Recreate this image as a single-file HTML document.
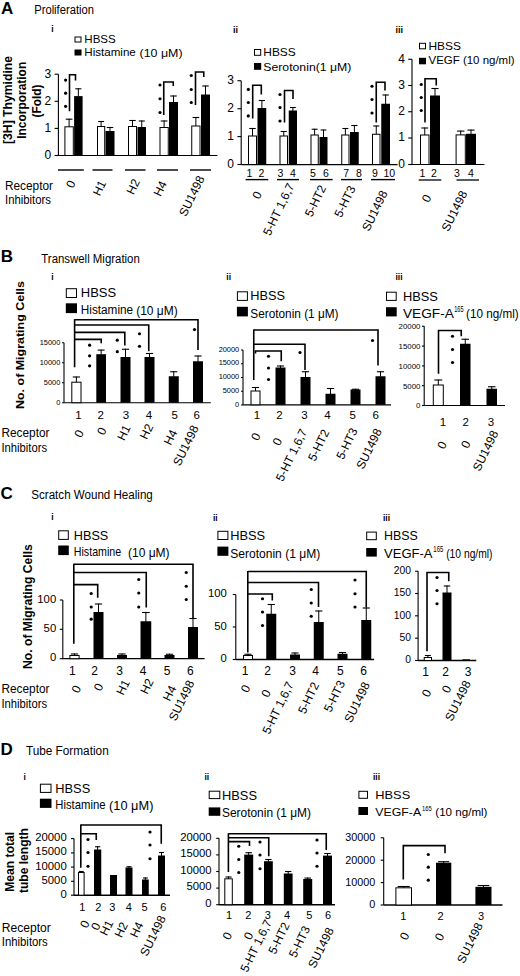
<!DOCTYPE html>
<html><head><meta charset="utf-8"><style>
html,body{margin:0;padding:0;background:#fff;width:520px;height:976px;overflow:hidden}
svg{display:block;font-family:"Liberation Sans",sans-serif}
text{fill:#000;stroke:none}
</style></head><body>
<svg width="520" height="976" viewBox="0 0 520 976">
<rect x="0" y="0" width="520" height="976" fill="#fff"/>
<g stroke="#000">
<text x="1.00" y="13.80" font-size="17" font-weight="bold">A</text>
<text x="34.20" y="13.60" font-size="12" textLength="59.80" lengthAdjust="spacingAndGlyphs">Proliferation</text>
<text x="11.80" y="100.00" font-size="12" text-anchor="middle" font-weight="bold" textLength="88.00" lengthAdjust="spacingAndGlyphs" transform="rotate(-90 11.80 100.00)">[3H] Thymidine</text>
<text x="26.20" y="100.30" font-size="12" text-anchor="middle" font-weight="bold" textLength="77.00" lengthAdjust="spacingAndGlyphs" transform="rotate(-90 26.20 100.30)">Incorporation</text>
<text x="40.50" y="101.00" font-size="12" text-anchor="middle" font-weight="bold" textLength="33.00" lengthAdjust="spacingAndGlyphs" transform="rotate(-90 40.50 101.00)">(Fold)</text>
<text x="51.20" y="31.80" font-size="8.5" font-weight="bold">i</text>
<rect x="75.00" y="37.00" width="6.00" height="5.00" fill="#fff" stroke-width="1"/>
<rect x="74.50" y="49.50" width="7.00" height="6.00" fill="#000" stroke="none"/>
<text x="84.30" y="42.70" font-size="11" textLength="31.50" lengthAdjust="spacingAndGlyphs">HBSS</text>
<text x="84.30" y="55.70" font-size="11" textLength="51.50" lengthAdjust="spacingAndGlyphs">Histamine</text>
<text x="139.60" y="56.60" font-size="11.5" textLength="43.00" lengthAdjust="spacingAndGlyphs">(10 μM)</text>
<line x1="58.40" y1="74.20" x2="58.40" y2="155.50" stroke-width="1.1"/>
<line x1="54.60" y1="74.20" x2="58.40" y2="74.20" stroke-width="1.1"/>
<text x="51.20" y="77.52" font-size="12" text-anchor="end">3</text>
<line x1="54.60" y1="101.30" x2="58.40" y2="101.30" stroke-width="1.1"/>
<text x="51.20" y="104.62" font-size="12" text-anchor="end">2</text>
<line x1="54.60" y1="128.40" x2="58.40" y2="128.40" stroke-width="1.1"/>
<text x="51.20" y="131.72" font-size="12" text-anchor="end">1</text>
<line x1="54.60" y1="155.50" x2="58.40" y2="155.50" stroke-width="1.1"/>
<text x="51.20" y="158.82" font-size="12" text-anchor="end">0</text>
<line x1="58.00" y1="155.50" x2="217.50" y2="155.50" stroke-width="1.1"/>
<rect x="64.90" y="126.80" width="8.40" height="28.70" fill="#fff" stroke-width="1.0"/>
<line x1="69.10" y1="118.70" x2="69.10" y2="126.80" stroke-width="1.0"/>
<line x1="65.72" y1="119.20" x2="72.48" y2="119.20" stroke-width="1.1"/>
<rect x="74.10" y="96.10" width="8.50" height="59.40" fill="#000" stroke="none"/>
<line x1="78.35" y1="88.30" x2="78.35" y2="96.60" stroke-width="1.0"/>
<line x1="75.29" y1="88.80" x2="81.41" y2="88.80" stroke-width="1.1"/>
<rect x="97.50" y="126.50" width="7.20" height="29.00" fill="#fff" stroke-width="1.0"/>
<line x1="101.10" y1="121.00" x2="101.10" y2="126.50" stroke-width="1.0"/>
<line x1="98.15" y1="121.50" x2="104.05" y2="121.50" stroke-width="1.1"/>
<rect x="105.50" y="131.00" width="9.00" height="24.50" fill="#000" stroke="none"/>
<line x1="110.00" y1="127.00" x2="110.00" y2="131.50" stroke-width="1.0"/>
<line x1="106.76" y1="127.50" x2="113.24" y2="127.50" stroke-width="1.1"/>
<rect x="128.50" y="126.50" width="8.00" height="29.00" fill="#fff" stroke-width="1.0"/>
<line x1="132.50" y1="120.00" x2="132.50" y2="126.50" stroke-width="1.0"/>
<line x1="129.26" y1="120.50" x2="135.74" y2="120.50" stroke-width="1.1"/>
<rect x="137.50" y="127.00" width="8.50" height="28.50" fill="#000" stroke="none"/>
<line x1="141.75" y1="120.50" x2="141.75" y2="127.50" stroke-width="1.0"/>
<line x1="138.69" y1="121.00" x2="144.81" y2="121.00" stroke-width="1.1"/>
<rect x="160.00" y="127.50" width="8.25" height="28.00" fill="#fff" stroke-width="1.0"/>
<line x1="164.12" y1="120.50" x2="164.12" y2="127.50" stroke-width="1.0"/>
<line x1="160.79" y1="121.00" x2="167.46" y2="121.00" stroke-width="1.1"/>
<rect x="169.00" y="102.00" width="9.00" height="53.50" fill="#000" stroke="none"/>
<line x1="173.50" y1="95.50" x2="173.50" y2="102.50" stroke-width="1.0"/>
<line x1="170.26" y1="96.00" x2="176.74" y2="96.00" stroke-width="1.1"/>
<rect x="191.75" y="126.00" width="8.25" height="29.50" fill="#fff" stroke-width="1.0"/>
<line x1="195.88" y1="117.00" x2="195.88" y2="126.00" stroke-width="1.0"/>
<line x1="192.54" y1="117.50" x2="199.21" y2="117.50" stroke-width="1.1"/>
<rect x="201.00" y="94.50" width="9.00" height="61.00" fill="#000" stroke="none"/>
<line x1="205.50" y1="85.50" x2="205.50" y2="95.00" stroke-width="1.0"/>
<line x1="202.26" y1="86.00" x2="208.74" y2="86.00" stroke-width="1.1"/>
<polyline points="69.50,111.20 69.50,74.70 75.50,74.70 75.50,80.60" fill="none" stroke-width="1.6"/>
<polyline points="163.75,115.00 163.75,82.00 173.25,82.00 173.25,86.00" fill="none" stroke-width="1.6"/>
<polyline points="195.50,105.00 195.50,72.00 203.75,72.00 203.75,77.00" fill="none" stroke-width="1.6"/>
<circle cx="65.60" cy="80.10" r="1.6" fill="#000" stroke="none"/>
<circle cx="65.60" cy="93.20" r="1.6" fill="#000" stroke="none"/>
<circle cx="65.60" cy="106.30" r="1.6" fill="#000" stroke="none"/>
<circle cx="160.00" cy="85.00" r="1.6" fill="#000" stroke="none"/>
<circle cx="160.00" cy="98.75" r="1.6" fill="#000" stroke="none"/>
<circle cx="160.00" cy="112.50" r="1.6" fill="#000" stroke="none"/>
<circle cx="191.25" cy="75.50" r="1.6" fill="#000" stroke="none"/>
<circle cx="191.25" cy="89.50" r="1.6" fill="#000" stroke="none"/>
<circle cx="191.25" cy="102.50" r="1.6" fill="#000" stroke="none"/>
<line x1="58.00" y1="170.00" x2="83.75" y2="170.00" stroke-width="1.4"/>
<line x1="92.50" y1="170.00" x2="112.50" y2="170.00" stroke-width="1.4"/>
<line x1="125.00" y1="170.00" x2="145.50" y2="170.00" stroke-width="1.4"/>
<line x1="157.00" y1="170.00" x2="178.00" y2="170.00" stroke-width="1.4"/>
<line x1="190.00" y1="170.00" x2="211.00" y2="170.00" stroke-width="1.4"/>
<text x="76.00" y="182.90" font-size="12" text-anchor="end" transform="rotate(-64 76.00 182.90)">0</text>
<text x="106.40" y="182.90" font-size="12" text-anchor="end" transform="rotate(-64 106.40 182.90)">H1</text>
<text x="140.30" y="181.60" font-size="12" text-anchor="end" transform="rotate(-64 140.30 181.60)">H2</text>
<text x="167.20" y="183.40" font-size="12" text-anchor="end" transform="rotate(-64 167.20 183.40)">H4</text>
<text x="204.95" y="178.20" font-size="12" text-anchor="end" transform="rotate(-64 204.95 178.20)">SU1498</text>
<text x="5.00" y="189.50" font-size="12" textLength="48.00" lengthAdjust="spacingAndGlyphs">Receptor</text>
<text x="5.00" y="204.00" font-size="12" textLength="46.00" lengthAdjust="spacingAndGlyphs">Inhibitors</text>
<text x="233.00" y="32.50" font-size="9" font-weight="bold">ii</text>
<rect x="254.50" y="49.50" width="6.20" height="5.80" fill="#fff" stroke-width="1"/>
<rect x="254.00" y="63.00" width="7.20" height="6.80" fill="#000" stroke="none"/>
<text x="263.30" y="56.20" font-size="11.5" textLength="32.50" lengthAdjust="spacingAndGlyphs">HBSS</text>
<text x="263.30" y="70.80" font-size="11.5" textLength="88.00" lengthAdjust="spacingAndGlyphs">Serotonin(1 μM)</text>
<line x1="241.20" y1="80.75" x2="241.20" y2="164.50" stroke-width="1.1"/>
<line x1="237.40" y1="80.75" x2="241.20" y2="80.75" stroke-width="1.1"/>
<text x="234.00" y="84.07" font-size="12" text-anchor="end">3</text>
<line x1="237.40" y1="108.75" x2="241.20" y2="108.75" stroke-width="1.1"/>
<text x="234.00" y="112.07" font-size="12" text-anchor="end">2</text>
<line x1="237.40" y1="136.60" x2="241.20" y2="136.60" stroke-width="1.1"/>
<text x="234.00" y="139.92" font-size="12" text-anchor="end">1</text>
<line x1="237.40" y1="164.50" x2="241.20" y2="164.50" stroke-width="1.1"/>
<text x="234.00" y="167.82" font-size="12" text-anchor="end">0</text>
<line x1="241.20" y1="164.60" x2="397.50" y2="164.60" stroke-width="1.1"/>
<rect x="248.50" y="136.00" width="8.00" height="28.50" fill="#fff" stroke-width="1.0"/>
<line x1="252.50" y1="128.00" x2="252.50" y2="136.00" stroke-width="1.0"/>
<line x1="249.26" y1="128.50" x2="255.74" y2="128.50" stroke-width="1.1"/>
<rect x="257.50" y="108.00" width="8.75" height="56.50" fill="#000" stroke="none"/>
<line x1="261.88" y1="100.00" x2="261.88" y2="108.50" stroke-width="1.0"/>
<line x1="258.73" y1="100.50" x2="265.02" y2="100.50" stroke-width="1.1"/>
<rect x="280.00" y="136.00" width="7.50" height="28.50" fill="#fff" stroke-width="1.0"/>
<line x1="283.75" y1="131.00" x2="283.75" y2="136.00" stroke-width="1.0"/>
<line x1="280.69" y1="131.50" x2="286.81" y2="131.50" stroke-width="1.1"/>
<rect x="288.75" y="110.50" width="8.25" height="54.00" fill="#000" stroke="none"/>
<line x1="292.88" y1="107.00" x2="292.88" y2="111.00" stroke-width="1.0"/>
<line x1="289.90" y1="107.50" x2="295.85" y2="107.50" stroke-width="1.1"/>
<rect x="311.00" y="135.00" width="7.25" height="29.50" fill="#fff" stroke-width="1.0"/>
<line x1="314.62" y1="128.75" x2="314.62" y2="135.00" stroke-width="1.0"/>
<line x1="311.65" y1="129.25" x2="317.60" y2="129.25" stroke-width="1.1"/>
<rect x="319.50" y="137.00" width="8.00" height="27.50" fill="#000" stroke="none"/>
<line x1="323.50" y1="129.50" x2="323.50" y2="137.50" stroke-width="1.0"/>
<line x1="320.62" y1="130.00" x2="326.38" y2="130.00" stroke-width="1.1"/>
<rect x="341.75" y="135.00" width="7.25" height="29.50" fill="#fff" stroke-width="1.0"/>
<line x1="345.38" y1="128.00" x2="345.38" y2="135.00" stroke-width="1.0"/>
<line x1="342.40" y1="128.50" x2="348.35" y2="128.50" stroke-width="1.1"/>
<rect x="350.00" y="132.00" width="8.75" height="32.50" fill="#000" stroke="none"/>
<line x1="354.38" y1="125.00" x2="354.38" y2="132.50" stroke-width="1.0"/>
<line x1="351.23" y1="125.50" x2="357.52" y2="125.50" stroke-width="1.1"/>
<rect x="372.50" y="134.25" width="7.50" height="30.25" fill="#fff" stroke-width="1.0"/>
<line x1="376.25" y1="125.50" x2="376.25" y2="134.25" stroke-width="1.0"/>
<line x1="373.19" y1="126.00" x2="379.31" y2="126.00" stroke-width="1.1"/>
<rect x="381.25" y="103.75" width="8.75" height="60.75" fill="#000" stroke="none"/>
<line x1="385.62" y1="94.50" x2="385.62" y2="104.25" stroke-width="1.0"/>
<line x1="382.48" y1="95.00" x2="388.77" y2="95.00" stroke-width="1.1"/>
<polyline points="252.70,118.50 252.70,85.20 261.30,85.20 261.30,94.50" fill="none" stroke-width="1.6"/>
<polyline points="284.50,122.50 284.50,90.50 293.00,90.50 293.00,99.00" fill="none" stroke-width="1.6"/>
<polyline points="376.25,122.50 376.25,82.30 385.00,82.30 385.00,90.50" fill="none" stroke-width="1.6"/>
<circle cx="248.30" cy="89.40" r="1.6" fill="#000" stroke="none"/>
<circle cx="248.30" cy="102.50" r="1.6" fill="#000" stroke="none"/>
<circle cx="248.30" cy="115.90" r="1.6" fill="#000" stroke="none"/>
<circle cx="280.00" cy="94.50" r="1.6" fill="#000" stroke="none"/>
<circle cx="280.00" cy="107.50" r="1.6" fill="#000" stroke="none"/>
<circle cx="280.00" cy="121.00" r="1.6" fill="#000" stroke="none"/>
<circle cx="372.00" cy="86.25" r="1.6" fill="#000" stroke="none"/>
<circle cx="372.00" cy="99.50" r="1.6" fill="#000" stroke="none"/>
<circle cx="372.00" cy="113.00" r="1.6" fill="#000" stroke="none"/>
<text x="249.50" y="177.30" font-size="10.5" text-anchor="middle">1</text>
<text x="261.50" y="177.30" font-size="10.5" text-anchor="middle">2</text>
<text x="280.50" y="177.30" font-size="10.5" text-anchor="middle">3</text>
<text x="293.00" y="177.30" font-size="10.5" text-anchor="middle">4</text>
<text x="313.00" y="177.30" font-size="10.5" text-anchor="middle">5</text>
<text x="325.80" y="177.30" font-size="10.5" text-anchor="middle">6</text>
<text x="346.20" y="177.30" font-size="10.5" text-anchor="middle">7</text>
<text x="359.00" y="177.30" font-size="10.5" text-anchor="middle">8</text>
<text x="375.00" y="177.30" font-size="10.5" text-anchor="middle">9</text>
<text x="389.30" y="177.30" font-size="10.5" text-anchor="middle">10</text>
<line x1="245.60" y1="179.60" x2="268.30" y2="179.60" stroke-width="1.4"/>
<line x1="277.00" y1="179.60" x2="299.00" y2="179.60" stroke-width="1.4"/>
<line x1="310.00" y1="179.60" x2="332.60" y2="179.60" stroke-width="1.4"/>
<line x1="341.00" y1="179.60" x2="362.00" y2="179.60" stroke-width="1.4"/>
<line x1="371.00" y1="179.60" x2="395.00" y2="179.60" stroke-width="1.4"/>
<text x="262.20" y="193.90" font-size="12" text-anchor="end" transform="rotate(-64 262.20 193.90)">0</text>
<text x="294.70" y="185.70" font-size="12" text-anchor="end" transform="rotate(-64 294.70 185.70)">5-HT 1,6,7</text>
<text x="326.40" y="187.70" font-size="12" text-anchor="end" transform="rotate(-64 326.40 187.70)">5-HT2</text>
<text x="356.00" y="188.20" font-size="12" text-anchor="end" transform="rotate(-64 356.00 188.20)">5-HT3</text>
<text x="387.90" y="193.10" font-size="12" text-anchor="end" transform="rotate(-64 387.90 193.10)">SU1498</text>
<text x="395.50" y="33.00" font-size="9" font-weight="bold">iii</text>
<rect x="419.50" y="43.30" width="6.00" height="5.50" fill="#fff" stroke-width="1"/>
<rect x="419.00" y="57.80" width="7.00" height="6.50" fill="#000" stroke="none"/>
<text x="428.50" y="49.70" font-size="11.5" textLength="32.50" lengthAdjust="spacingAndGlyphs">HBSS</text>
<text x="428.50" y="64.30" font-size="11.5" textLength="86.00" lengthAdjust="spacingAndGlyphs">VEGF (10 ng/ml)</text>
<line x1="412.00" y1="59.25" x2="412.00" y2="164.50" stroke-width="1.1"/>
<line x1="408.20" y1="59.25" x2="412.00" y2="59.25" stroke-width="1.1"/>
<text x="405.00" y="62.57" font-size="12" text-anchor="end">4</text>
<line x1="408.20" y1="85.50" x2="412.00" y2="85.50" stroke-width="1.1"/>
<text x="405.00" y="88.82" font-size="12" text-anchor="end">3</text>
<line x1="408.20" y1="111.75" x2="412.00" y2="111.75" stroke-width="1.1"/>
<text x="405.00" y="115.07" font-size="12" text-anchor="end">2</text>
<line x1="408.20" y1="138.00" x2="412.00" y2="138.00" stroke-width="1.1"/>
<text x="405.00" y="141.32" font-size="12" text-anchor="end">1</text>
<line x1="408.20" y1="164.50" x2="412.00" y2="164.50" stroke-width="1.1"/>
<text x="405.00" y="167.82" font-size="12" text-anchor="end">0</text>
<line x1="412.00" y1="164.50" x2="484.40" y2="164.50" stroke-width="1.1"/>
<rect x="420.50" y="135.00" width="8.50" height="29.50" fill="#fff" stroke-width="1.0"/>
<line x1="424.75" y1="127.50" x2="424.75" y2="135.00" stroke-width="1.0"/>
<line x1="421.33" y1="128.00" x2="428.17" y2="128.00" stroke-width="1.1"/>
<rect x="430.00" y="95.50" width="10.00" height="69.00" fill="#000" stroke="none"/>
<line x1="435.00" y1="88.00" x2="435.00" y2="96.00" stroke-width="1.0"/>
<line x1="431.40" y1="88.50" x2="438.60" y2="88.50" stroke-width="1.1"/>
<rect x="456.10" y="134.90" width="9.20" height="29.60" fill="#fff" stroke-width="1.0"/>
<line x1="460.70" y1="130.60" x2="460.70" y2="134.90" stroke-width="1.0"/>
<line x1="457.03" y1="131.10" x2="464.37" y2="131.10" stroke-width="1.1"/>
<rect x="466.00" y="133.80" width="10.00" height="30.70" fill="#000" stroke="none"/>
<line x1="471.00" y1="129.60" x2="471.00" y2="134.30" stroke-width="1.0"/>
<line x1="467.40" y1="130.10" x2="474.60" y2="130.10" stroke-width="1.1"/>
<polyline points="425.00,122.50 425.00,78.75 436.25,78.75 436.25,85.50" fill="none" stroke-width="1.6"/>
<circle cx="421.25" cy="84.50" r="1.6" fill="#000" stroke="none"/>
<circle cx="421.25" cy="97.50" r="1.6" fill="#000" stroke="none"/>
<circle cx="421.25" cy="110.50" r="1.6" fill="#000" stroke="none"/>
<text x="422.50" y="177.30" font-size="10.5" text-anchor="middle">1</text>
<text x="434.00" y="177.30" font-size="10.5" text-anchor="middle">2</text>
<text x="457.00" y="177.30" font-size="10.5" text-anchor="middle">3</text>
<text x="471.00" y="177.30" font-size="10.5" text-anchor="middle">4</text>
<line x1="418.75" y1="180.00" x2="441.25" y2="180.00" stroke-width="1.3"/>
<line x1="456.50" y1="180.00" x2="479.00" y2="180.00" stroke-width="1.3"/>
<text x="431.60" y="197.20" font-size="12" text-anchor="end" transform="rotate(-64 431.60 197.20)">0</text>
<text x="467.60" y="193.20" font-size="12" text-anchor="end" transform="rotate(-64 467.60 193.20)">SU1498</text>
<text x="0.70" y="262.00" font-size="17" font-weight="bold">B</text>
<text x="41.30" y="263.00" font-size="12" textLength="98.50" lengthAdjust="spacingAndGlyphs">Transwell Migration</text>
<text x="23.70" y="345.00" font-size="11.5" text-anchor="middle" font-weight="bold" textLength="128.00" lengthAdjust="spacingAndGlyphs" transform="rotate(-90 23.70 345.00)">No. of Migrating Cells</text>
<text x="51.20" y="279.80" font-size="8.5" font-weight="bold">i</text>
<rect x="66.30" y="288.70" width="10.20" height="8.80" fill="#fff" stroke-width="1"/>
<rect x="65.80" y="303.30" width="11.20" height="9.80" fill="#000" stroke="none"/>
<text x="80.80" y="297.40" font-size="12.3" textLength="35.30" lengthAdjust="spacingAndGlyphs">HBSS</text>
<text x="80.80" y="313.80" font-size="12.3" textLength="52.30" lengthAdjust="spacingAndGlyphs">Histamine</text>
<text x="136.20" y="315.00" font-size="13" textLength="41.50" lengthAdjust="spacingAndGlyphs">(10 μM)</text>
<line x1="64.00" y1="342.70" x2="64.00" y2="402.70" stroke-width="1.1"/>
<line x1="62.00" y1="342.70" x2="64.00" y2="342.70" stroke-width="1.1"/>
<text x="60.30" y="345.36" font-size="7.4" text-anchor="end">15000</text>
<line x1="62.00" y1="362.70" x2="64.00" y2="362.70" stroke-width="1.1"/>
<text x="60.30" y="365.36" font-size="7.4" text-anchor="end">10000</text>
<line x1="62.00" y1="382.70" x2="64.00" y2="382.70" stroke-width="1.1"/>
<text x="60.30" y="385.36" font-size="7.4" text-anchor="end">5000</text>
<line x1="62.00" y1="402.70" x2="64.00" y2="402.70" stroke-width="1.1"/>
<text x="60.30" y="405.36" font-size="7.4" text-anchor="end">0</text>
<line x1="64.00" y1="402.70" x2="210.80" y2="402.70" stroke-width="1.1"/>
<rect x="71.80" y="382.20" width="9.20" height="20.50" fill="#fff" stroke-width="1.0"/>
<line x1="76.40" y1="376.50" x2="76.40" y2="382.20" stroke-width="1.0"/>
<line x1="72.73" y1="377.00" x2="80.07" y2="377.00" stroke-width="1.1"/>
<rect x="96.30" y="354.20" width="9.70" height="48.50" fill="#000" stroke="none"/>
<line x1="101.15" y1="349.60" x2="101.15" y2="354.70" stroke-width="1.0"/>
<line x1="97.66" y1="350.10" x2="104.64" y2="350.10" stroke-width="1.1"/>
<rect x="120.50" y="357.00" width="10.00" height="45.70" fill="#000" stroke="none"/>
<line x1="125.50" y1="348.75" x2="125.50" y2="357.50" stroke-width="1.0"/>
<line x1="121.90" y1="349.25" x2="129.10" y2="349.25" stroke-width="1.1"/>
<rect x="144.50" y="357.00" width="10.00" height="45.70" fill="#000" stroke="none"/>
<line x1="149.50" y1="353.00" x2="149.50" y2="357.50" stroke-width="1.0"/>
<line x1="145.90" y1="353.50" x2="153.10" y2="353.50" stroke-width="1.1"/>
<rect x="168.75" y="376.25" width="10.00" height="26.45" fill="#000" stroke="none"/>
<line x1="173.75" y1="371.25" x2="173.75" y2="376.75" stroke-width="1.0"/>
<line x1="170.15" y1="371.75" x2="177.35" y2="371.75" stroke-width="1.1"/>
<rect x="193.00" y="361.25" width="10.00" height="41.45" fill="#000" stroke="none"/>
<line x1="198.00" y1="355.50" x2="198.00" y2="361.75" stroke-width="1.0"/>
<line x1="194.40" y1="356.00" x2="201.60" y2="356.00" stroke-width="1.1"/>
<line x1="74.60" y1="319.20" x2="74.60" y2="367.30" stroke-width="1.6"/>
<polyline points="74.60,319.80 198.00,319.80 198.00,350.00" fill="none" stroke-width="1.6"/>
<polyline points="74.60,325.00 148.75,325.00 148.75,351.25" fill="none" stroke-width="1.6"/>
<polyline points="74.60,332.40 124.80,332.40 124.80,345.50" fill="none" stroke-width="1.6"/>
<polyline points="74.60,339.40 101.20,339.40 101.20,343.30" fill="none" stroke-width="1.6"/>
<circle cx="89.60" cy="345.20" r="1.6" fill="#000" stroke="none"/>
<circle cx="89.60" cy="355.80" r="1.6" fill="#000" stroke="none"/>
<circle cx="89.60" cy="365.80" r="1.6" fill="#000" stroke="none"/>
<circle cx="117.30" cy="340.20" r="1.6" fill="#000" stroke="none"/>
<circle cx="117.30" cy="351.70" r="1.6" fill="#000" stroke="none"/>
<circle cx="139.50" cy="333.75" r="1.6" fill="#000" stroke="none"/>
<circle cx="139.50" cy="346.25" r="1.6" fill="#000" stroke="none"/>
<circle cx="194.50" cy="329.50" r="1.6" fill="#000" stroke="none"/>
<text x="78.40" y="419.00" font-size="11.5" text-anchor="middle">1</text>
<text x="100.60" y="419.00" font-size="11.5" text-anchor="middle">2</text>
<text x="126.00" y="419.00" font-size="11.5" text-anchor="middle">3</text>
<text x="149.00" y="419.00" font-size="11.5" text-anchor="middle">4</text>
<text x="174.80" y="419.00" font-size="11.5" text-anchor="middle">5</text>
<text x="196.80" y="419.00" font-size="11.5" text-anchor="middle">6</text>
<text x="84.10" y="432.60" font-size="12" text-anchor="end" transform="rotate(-64 84.10 432.60)">0</text>
<text x="106.90" y="430.10" font-size="12" text-anchor="end" transform="rotate(-64 106.90 430.10)">0</text>
<text x="131.00" y="427.60" font-size="12" text-anchor="end" transform="rotate(-64 131.00 427.60)">H1</text>
<text x="153.60" y="426.40" font-size="12" text-anchor="end" transform="rotate(-64 153.60 426.40)">H2</text>
<text x="177.60" y="432.30" font-size="12" text-anchor="end" transform="rotate(-64 177.60 432.30)">H4</text>
<text x="199.00" y="427.80" font-size="12" text-anchor="end" transform="rotate(-64 199.00 427.80)">SU1498</text>
<text x="1.50" y="437.30" font-size="12" textLength="48.00" lengthAdjust="spacingAndGlyphs">Receptor</text>
<text x="1.50" y="451.50" font-size="12" textLength="45.50" lengthAdjust="spacingAndGlyphs">Inhibitors</text>
<text x="226.30" y="279.80" font-size="8.5" font-weight="bold">ii</text>
<rect x="237.40" y="291.80" width="10.00" height="8.60" fill="#fff" stroke-width="1"/>
<rect x="236.90" y="306.80" width="11.00" height="9.60" fill="#000" stroke="none"/>
<text x="250.30" y="300.40" font-size="13" textLength="34.70" lengthAdjust="spacingAndGlyphs">HBSS</text>
<text x="250.30" y="317.50" font-size="13" textLength="88.20" lengthAdjust="spacingAndGlyphs">Serotonin (1 μM)</text>
<line x1="243.00" y1="350.00" x2="243.00" y2="405.00" stroke-width="1.1"/>
<line x1="241.00" y1="350.00" x2="243.00" y2="350.00" stroke-width="1.1"/>
<text x="239.20" y="351.66" font-size="7.4" text-anchor="end">20000</text>
<line x1="241.00" y1="363.75" x2="243.00" y2="363.75" stroke-width="1.1"/>
<text x="239.20" y="365.41" font-size="7.4" text-anchor="end">15000</text>
<line x1="241.00" y1="377.50" x2="243.00" y2="377.50" stroke-width="1.1"/>
<text x="239.20" y="379.16" font-size="7.4" text-anchor="end">10000</text>
<line x1="241.00" y1="391.25" x2="243.00" y2="391.25" stroke-width="1.1"/>
<text x="239.20" y="392.91" font-size="7.4" text-anchor="end">5000</text>
<line x1="241.00" y1="405.00" x2="243.00" y2="405.00" stroke-width="1.1"/>
<text x="239.20" y="406.66" font-size="7.4" text-anchor="end">0</text>
<line x1="243.00" y1="404.90" x2="391.00" y2="404.90" stroke-width="1.1"/>
<rect x="251.00" y="391.00" width="9.00" height="13.80" fill="#fff" stroke-width="1.0"/>
<line x1="255.50" y1="387.00" x2="255.50" y2="391.00" stroke-width="1.0"/>
<line x1="251.90" y1="387.50" x2="259.10" y2="387.50" stroke-width="1.1"/>
<rect x="275.50" y="367.50" width="10.00" height="37.30" fill="#000" stroke="none"/>
<line x1="280.50" y1="365.50" x2="280.50" y2="368.00" stroke-width="1.0"/>
<line x1="276.90" y1="366.00" x2="284.10" y2="366.00" stroke-width="1.1"/>
<rect x="300.50" y="377.00" width="10.00" height="27.80" fill="#000" stroke="none"/>
<line x1="305.50" y1="371.25" x2="305.50" y2="377.50" stroke-width="1.0"/>
<line x1="301.90" y1="371.75" x2="309.10" y2="371.75" stroke-width="1.1"/>
<rect x="325.50" y="393.75" width="10.00" height="11.05" fill="#000" stroke="none"/>
<line x1="330.50" y1="388.00" x2="330.50" y2="394.25" stroke-width="1.0"/>
<line x1="326.90" y1="388.50" x2="334.10" y2="388.50" stroke-width="1.1"/>
<rect x="350.50" y="389.50" width="10.00" height="15.30" fill="#000" stroke="none"/>
<line x1="355.50" y1="388.75" x2="355.50" y2="390.00" stroke-width="1.0"/>
<line x1="351.90" y1="389.25" x2="359.10" y2="389.25" stroke-width="1.1"/>
<rect x="375.50" y="376.25" width="10.00" height="28.55" fill="#000" stroke="none"/>
<line x1="380.50" y1="371.25" x2="380.50" y2="376.75" stroke-width="1.0"/>
<line x1="376.90" y1="371.75" x2="384.10" y2="371.75" stroke-width="1.1"/>
<line x1="253.75" y1="329.40" x2="253.75" y2="380.00" stroke-width="1.6"/>
<polyline points="253.75,330.00 378.00,330.00 378.00,365.50" fill="none" stroke-width="1.6"/>
<polyline points="253.75,344.25 305.00,344.25 305.00,370.00" fill="none" stroke-width="1.6"/>
<polyline points="255.50,353.50 255.50,351.00 281.25,351.00 281.25,361.25" fill="none" stroke-width="1.6"/>
<circle cx="268.50" cy="356.25" r="1.6" fill="#000" stroke="none"/>
<circle cx="268.50" cy="368.00" r="1.6" fill="#000" stroke="none"/>
<circle cx="268.50" cy="379.50" r="1.6" fill="#000" stroke="none"/>
<circle cx="300.00" cy="352.50" r="1.6" fill="#000" stroke="none"/>
<circle cx="372.50" cy="340.50" r="1.6" fill="#000" stroke="none"/>
<text x="257.00" y="419.10" font-size="11.5" text-anchor="middle">1</text>
<text x="279.50" y="419.10" font-size="11.5" text-anchor="middle">2</text>
<text x="304.50" y="419.10" font-size="11.5" text-anchor="middle">3</text>
<text x="327.50" y="419.10" font-size="11.5" text-anchor="middle">4</text>
<text x="352.80" y="419.10" font-size="11.5" text-anchor="middle">5</text>
<text x="375.60" y="419.10" font-size="11.5" text-anchor="middle">6</text>
<text x="260.90" y="435.50" font-size="12" text-anchor="end" transform="rotate(-64 260.90 435.50)">0</text>
<text x="282.40" y="440.50" font-size="12" text-anchor="end" transform="rotate(-64 282.40 440.50)">0</text>
<text x="307.50" y="431.40" font-size="12" text-anchor="end" transform="rotate(-64 307.50 431.40)">5-HT 1,6,7</text>
<text x="329.70" y="431.90" font-size="12" text-anchor="end" transform="rotate(-64 329.70 431.90)">5-HT2</text>
<text x="357.90" y="430.40" font-size="12" text-anchor="end" transform="rotate(-64 357.90 430.40)">5-HT3</text>
<text x="382.20" y="431.10" font-size="12" text-anchor="end" transform="rotate(-64 382.20 431.10)">SU1498</text>
<text x="395.50" y="279.80" font-size="8.5" font-weight="bold">iii</text>
<rect x="386.50" y="292.20" width="9.70" height="8.20" fill="#fff" stroke-width="1"/>
<rect x="386.00" y="307.20" width="10.70" height="9.20" fill="#000" stroke="none"/>
<text x="402.90" y="301.00" font-size="13" textLength="35.00" lengthAdjust="spacingAndGlyphs">HBSS</text>
<text x="402.90" y="317.80" font-size="13" textLength="51.00" lengthAdjust="spacingAndGlyphs">VEGF-A</text>
<text x="454.20" y="312.30" font-size="8.5" textLength="9.30" lengthAdjust="spacingAndGlyphs">165</text>
<text x="466.00" y="318.20" font-size="13" textLength="52.70" lengthAdjust="spacingAndGlyphs">(10 ng/ml)</text>
<line x1="424.20" y1="326.25" x2="424.20" y2="405.50" stroke-width="1.1"/>
<line x1="422.00" y1="326.25" x2="424.20" y2="326.25" stroke-width="1.1"/>
<text x="420.50" y="329.09" font-size="7.9" text-anchor="end">20000</text>
<line x1="422.00" y1="346.10" x2="424.20" y2="346.10" stroke-width="1.1"/>
<text x="420.50" y="348.94" font-size="7.9" text-anchor="end">15000</text>
<line x1="422.00" y1="365.90" x2="424.20" y2="365.90" stroke-width="1.1"/>
<text x="420.50" y="368.74" font-size="7.9" text-anchor="end">10000</text>
<line x1="422.00" y1="385.70" x2="424.20" y2="385.70" stroke-width="1.1"/>
<text x="420.50" y="388.54" font-size="7.9" text-anchor="end">5000</text>
<line x1="422.00" y1="405.50" x2="424.20" y2="405.50" stroke-width="1.1"/>
<text x="420.50" y="408.34" font-size="7.9" text-anchor="end">0</text>
<line x1="424.20" y1="405.50" x2="505.00" y2="405.50" stroke-width="1.1"/>
<rect x="433.30" y="385.00" width="10.00" height="20.50" fill="#fff" stroke-width="1.0"/>
<line x1="438.30" y1="379.50" x2="438.30" y2="385.00" stroke-width="1.0"/>
<line x1="434.34" y1="380.00" x2="442.26" y2="380.00" stroke-width="1.1"/>
<rect x="460.00" y="343.75" width="10.50" height="61.75" fill="#000" stroke="none"/>
<line x1="465.25" y1="338.75" x2="465.25" y2="344.25" stroke-width="1.0"/>
<line x1="461.47" y1="339.25" x2="469.03" y2="339.25" stroke-width="1.1"/>
<rect x="486.50" y="388.75" width="10.50" height="16.75" fill="#000" stroke="none"/>
<line x1="491.75" y1="386.25" x2="491.75" y2="389.25" stroke-width="1.0"/>
<line x1="487.97" y1="386.75" x2="495.53" y2="386.75" stroke-width="1.1"/>
<polyline points="438.50,373.75 438.50,330.50 461.25,330.50 461.25,336.25" fill="none" stroke-width="1.6"/>
<circle cx="452.50" cy="336.25" r="1.6" fill="#000" stroke="none"/>
<circle cx="452.50" cy="349.50" r="1.6" fill="#000" stroke="none"/>
<circle cx="452.50" cy="362.50" r="1.6" fill="#000" stroke="none"/>
<text x="443.00" y="425.80" font-size="11.5" text-anchor="middle">1</text>
<text x="465.60" y="425.80" font-size="11.5" text-anchor="middle">2</text>
<text x="491.00" y="425.80" font-size="11.5" text-anchor="middle">3</text>
<text x="447.25" y="444.00" font-size="12" text-anchor="end" transform="rotate(-64 447.25 444.00)">0</text>
<text x="471.00" y="443.30" font-size="12" text-anchor="end" transform="rotate(-64 471.00 443.30)">0</text>
<text x="498.70" y="432.90" font-size="12" text-anchor="end" transform="rotate(-64 498.70 432.90)">SU1498</text>
<text x="0.50" y="499.00" font-size="17" font-weight="bold">C</text>
<text x="31.30" y="499.00" font-size="12" textLength="121.50" lengthAdjust="spacingAndGlyphs">Scratch Wound Healing</text>
<text x="31.60" y="606.60" font-size="12" text-anchor="middle" font-weight="bold" textLength="124.70" lengthAdjust="spacingAndGlyphs" transform="rotate(-90 31.60 606.60)">No. of Migrating Cells</text>
<text x="51.20" y="519.60" font-size="8.5" font-weight="bold">i</text>
<rect x="58.70" y="530.80" width="9.60" height="8.60" fill="#fff" stroke-width="1"/>
<rect x="58.20" y="545.50" width="10.60" height="9.60" fill="#000" stroke="none"/>
<text x="73.80" y="539.60" font-size="12.7" textLength="34.50" lengthAdjust="spacingAndGlyphs">HBSS</text>
<text x="73.80" y="555.60" font-size="12.7" textLength="47.40" lengthAdjust="spacingAndGlyphs">Histamine</text>
<text x="128.00" y="556.50" font-size="12.7" textLength="41.60" lengthAdjust="spacingAndGlyphs">(10 μM)</text>
<line x1="62.80" y1="600.00" x2="62.80" y2="658.70" stroke-width="1.1"/>
<line x1="59.80" y1="600.00" x2="62.80" y2="600.00" stroke-width="1.1"/>
<text x="56.20" y="602.57" font-size="11.3" text-anchor="end">100</text>
<line x1="59.80" y1="629.30" x2="62.80" y2="629.30" stroke-width="1.1"/>
<text x="56.20" y="631.87" font-size="11.3" text-anchor="end">50</text>
<line x1="59.80" y1="658.70" x2="62.80" y2="658.70" stroke-width="1.1"/>
<text x="56.20" y="661.27" font-size="11.3" text-anchor="end">0</text>
<line x1="62.30" y1="658.70" x2="204.60" y2="658.70" stroke-width="1.3"/>
<rect x="69.90" y="655.50" width="9.20" height="3.20" fill="#fff" stroke-width="1.0"/>
<line x1="74.50" y1="653.50" x2="74.50" y2="655.50" stroke-width="1.0"/>
<line x1="70.83" y1="654.00" x2="78.17" y2="654.00" stroke-width="1.1"/>
<rect x="93.50" y="612.00" width="10.00" height="46.70" fill="#000" stroke="none"/>
<line x1="98.50" y1="603.50" x2="98.50" y2="612.50" stroke-width="1.0"/>
<line x1="94.90" y1="604.00" x2="102.10" y2="604.00" stroke-width="1.1"/>
<rect x="117.00" y="655.00" width="10.00" height="3.70" fill="#000" stroke="none"/>
<line x1="122.00" y1="653.50" x2="122.00" y2="655.50" stroke-width="1.0"/>
<line x1="118.40" y1="654.00" x2="125.60" y2="654.00" stroke-width="1.1"/>
<rect x="140.50" y="621.25" width="10.75" height="37.45" fill="#000" stroke="none"/>
<line x1="145.88" y1="612.00" x2="145.88" y2="621.75" stroke-width="1.0"/>
<line x1="142.00" y1="612.50" x2="149.75" y2="612.50" stroke-width="1.1"/>
<rect x="164.50" y="655.00" width="10.00" height="3.70" fill="#000" stroke="none"/>
<line x1="169.50" y1="653.75" x2="169.50" y2="655.50" stroke-width="1.0"/>
<line x1="165.90" y1="654.25" x2="173.10" y2="654.25" stroke-width="1.1"/>
<rect x="188.00" y="627.00" width="10.00" height="31.70" fill="#000" stroke="none"/>
<line x1="193.00" y1="618.00" x2="193.00" y2="627.50" stroke-width="1.0"/>
<line x1="189.40" y1="618.50" x2="196.60" y2="618.50" stroke-width="1.1"/>
<line x1="73.80" y1="563.70" x2="73.80" y2="643.80" stroke-width="1.6"/>
<polyline points="73.80,564.30 193.00,564.30 193.00,618.00" fill="none" stroke-width="1.6"/>
<polyline points="73.80,572.50 146.25,572.50 146.25,607.50" fill="none" stroke-width="1.6"/>
<polyline points="73.80,584.60 97.70,584.60 97.70,597.70" fill="none" stroke-width="1.6"/>
<circle cx="91.20" cy="593.50" r="1.6" fill="#000" stroke="none"/>
<circle cx="91.20" cy="607.00" r="1.6" fill="#000" stroke="none"/>
<circle cx="91.20" cy="619.20" r="1.6" fill="#000" stroke="none"/>
<circle cx="138.75" cy="579.50" r="1.6" fill="#000" stroke="none"/>
<circle cx="138.75" cy="593.00" r="1.6" fill="#000" stroke="none"/>
<circle cx="138.75" cy="607.00" r="1.6" fill="#000" stroke="none"/>
<circle cx="186.25" cy="572.50" r="1.6" fill="#000" stroke="none"/>
<circle cx="186.25" cy="586.25" r="1.6" fill="#000" stroke="none"/>
<circle cx="186.25" cy="599.50" r="1.6" fill="#000" stroke="none"/>
<text x="72.30" y="674.80" font-size="12" text-anchor="middle">1</text>
<text x="94.60" y="674.80" font-size="12" text-anchor="middle">2</text>
<text x="119.60" y="674.80" font-size="12" text-anchor="middle">3</text>
<text x="143.10" y="674.80" font-size="12" text-anchor="middle">4</text>
<text x="167.20" y="674.80" font-size="12" text-anchor="middle">5</text>
<text x="190.30" y="674.80" font-size="12" text-anchor="middle">6</text>
<text x="81.40" y="688.10" font-size="12" text-anchor="end" transform="rotate(-64 81.40 688.10)">0</text>
<text x="103.60" y="686.10" font-size="12" text-anchor="end" transform="rotate(-64 103.60 686.10)">0</text>
<text x="130.10" y="682.30" font-size="12" text-anchor="end" transform="rotate(-64 130.10 682.30)">H1</text>
<text x="154.00" y="681.20" font-size="12" text-anchor="end" transform="rotate(-64 154.00 681.20)">H2</text>
<text x="176.60" y="688.10" font-size="12" text-anchor="end" transform="rotate(-64 176.60 688.10)">H4</text>
<text x="194.80" y="682.80" font-size="12" text-anchor="end" transform="rotate(-64 194.80 682.80)">SU1498</text>
<text x="1.50" y="693.00" font-size="12" textLength="48.00" lengthAdjust="spacingAndGlyphs">Receptor</text>
<text x="1.50" y="707.50" font-size="12" textLength="45.50" lengthAdjust="spacingAndGlyphs">Inhibitors</text>
<text x="213.00" y="521.00" font-size="8.5" font-weight="bold">ii</text>
<rect x="217.90" y="531.30" width="10.00" height="8.20" fill="#fff" stroke-width="1"/>
<rect x="217.40" y="546.60" width="11.00" height="9.20" fill="#000" stroke="none"/>
<text x="230.20" y="539.90" font-size="12.7" textLength="35.00" lengthAdjust="spacingAndGlyphs">HBSS</text>
<text x="230.20" y="557.50" font-size="12.7" textLength="90.00" lengthAdjust="spacingAndGlyphs">Serotonin (1 μM)</text>
<line x1="235.80" y1="594.50" x2="235.80" y2="659.50" stroke-width="1.1"/>
<line x1="232.80" y1="594.50" x2="235.80" y2="594.50" stroke-width="1.1"/>
<text x="226.80" y="597.07" font-size="11.3" text-anchor="end">100</text>
<line x1="232.80" y1="627.00" x2="235.80" y2="627.00" stroke-width="1.1"/>
<text x="226.80" y="629.57" font-size="11.3" text-anchor="end">50</text>
<line x1="232.80" y1="659.50" x2="235.80" y2="659.50" stroke-width="1.1"/>
<text x="226.80" y="662.07" font-size="11.3" text-anchor="end">0</text>
<line x1="235.80" y1="659.50" x2="374.00" y2="659.50" stroke-width="1.3"/>
<rect x="243.50" y="655.50" width="9.00" height="4.00" fill="#fff" stroke-width="1.0"/>
<line x1="248.00" y1="653.75" x2="248.00" y2="655.50" stroke-width="1.0"/>
<line x1="244.40" y1="654.25" x2="251.60" y2="654.25" stroke-width="1.1"/>
<rect x="266.25" y="613.75" width="10.00" height="45.75" fill="#000" stroke="none"/>
<line x1="271.25" y1="604.00" x2="271.25" y2="614.25" stroke-width="1.0"/>
<line x1="267.65" y1="604.50" x2="274.85" y2="604.50" stroke-width="1.1"/>
<rect x="290.00" y="654.50" width="10.00" height="5.00" fill="#000" stroke="none"/>
<line x1="295.00" y1="652.50" x2="295.00" y2="655.00" stroke-width="1.0"/>
<line x1="291.40" y1="653.00" x2="298.60" y2="653.00" stroke-width="1.1"/>
<rect x="313.75" y="622.00" width="10.00" height="37.50" fill="#000" stroke="none"/>
<line x1="318.75" y1="610.50" x2="318.75" y2="622.50" stroke-width="1.0"/>
<line x1="315.15" y1="611.00" x2="322.35" y2="611.00" stroke-width="1.1"/>
<rect x="337.50" y="653.75" width="10.00" height="5.75" fill="#000" stroke="none"/>
<line x1="342.50" y1="652.00" x2="342.50" y2="654.25" stroke-width="1.0"/>
<line x1="338.90" y1="652.50" x2="346.10" y2="652.50" stroke-width="1.1"/>
<rect x="361.25" y="620.00" width="10.00" height="39.50" fill="#000" stroke="none"/>
<line x1="366.25" y1="607.50" x2="366.25" y2="620.50" stroke-width="1.0"/>
<line x1="362.65" y1="608.00" x2="369.85" y2="608.00" stroke-width="1.1"/>
<line x1="247.80" y1="571.00" x2="247.80" y2="652.50" stroke-width="1.6"/>
<polyline points="247.80,571.50 366.25,571.50 366.25,607.50" fill="none" stroke-width="1.6"/>
<polyline points="247.80,582.50 318.50,582.50 318.50,607.00" fill="none" stroke-width="1.6"/>
<polyline points="247.80,594.00 272.30,594.00 272.30,600.50" fill="none" stroke-width="1.6"/>
<circle cx="262.50" cy="598.75" r="1.6" fill="#000" stroke="none"/>
<circle cx="262.50" cy="612.00" r="1.6" fill="#000" stroke="none"/>
<circle cx="262.50" cy="625.50" r="1.6" fill="#000" stroke="none"/>
<circle cx="311.25" cy="589.50" r="1.6" fill="#000" stroke="none"/>
<circle cx="311.25" cy="603.00" r="1.6" fill="#000" stroke="none"/>
<circle cx="311.25" cy="616.25" r="1.6" fill="#000" stroke="none"/>
<circle cx="355.00" cy="580.00" r="1.6" fill="#000" stroke="none"/>
<circle cx="355.00" cy="593.75" r="1.6" fill="#000" stroke="none"/>
<circle cx="355.00" cy="607.00" r="1.6" fill="#000" stroke="none"/>
<text x="245.00" y="674.60" font-size="12" text-anchor="middle">1</text>
<text x="267.70" y="674.60" font-size="12" text-anchor="middle">2</text>
<text x="292.50" y="674.60" font-size="12" text-anchor="middle">3</text>
<text x="315.70" y="674.60" font-size="12" text-anchor="middle">4</text>
<text x="340.40" y="674.60" font-size="12" text-anchor="middle">5</text>
<text x="363.60" y="674.60" font-size="12" text-anchor="middle">6</text>
<text x="250.70" y="687.40" font-size="12" text-anchor="end" transform="rotate(-64 250.70 687.40)">0</text>
<text x="271.30" y="692.30" font-size="12" text-anchor="end" transform="rotate(-64 271.30 692.30)">0</text>
<text x="294.00" y="684.30" font-size="12" text-anchor="end" transform="rotate(-64 294.00 684.30)">5-HT 1,6,7</text>
<text x="319.50" y="684.80" font-size="12" text-anchor="end" transform="rotate(-64 319.50 684.80)">5-HT2</text>
<text x="345.40" y="683.10" font-size="12" text-anchor="end" transform="rotate(-64 345.40 683.10)">5-HT3</text>
<text x="370.30" y="684.50" font-size="12" text-anchor="end" transform="rotate(-64 370.30 684.50)">SU1498</text>
<text x="383.00" y="521.20" font-size="8.5" font-weight="bold">iii</text>
<rect x="366.70" y="532.10" width="9.60" height="7.60" fill="#fff" stroke-width="1"/>
<rect x="366.20" y="548.00" width="10.60" height="8.60" fill="#000" stroke="none"/>
<text x="384.00" y="540.00" font-size="12.7" textLength="33.80" lengthAdjust="spacingAndGlyphs">HBSS</text>
<text x="384.00" y="557.50" font-size="12.7" textLength="48.50" lengthAdjust="spacingAndGlyphs">VEGF-A</text>
<text x="433.30" y="551.80" font-size="8.5" textLength="10.00" lengthAdjust="spacingAndGlyphs">165</text>
<text x="446.20" y="558.00" font-size="12.7" textLength="46.30" lengthAdjust="spacingAndGlyphs">(10 ng/ml)</text>
<line x1="418.10" y1="571.25" x2="418.10" y2="660.50" stroke-width="1.1"/>
<line x1="415.10" y1="571.25" x2="418.10" y2="571.25" stroke-width="1.1"/>
<text x="411.00" y="573.96" font-size="10.3" text-anchor="end">200</text>
<line x1="415.10" y1="593.50" x2="418.10" y2="593.50" stroke-width="1.1"/>
<text x="411.00" y="596.21" font-size="10.3" text-anchor="end">150</text>
<line x1="415.10" y1="615.80" x2="418.10" y2="615.80" stroke-width="1.1"/>
<text x="411.00" y="618.51" font-size="10.3" text-anchor="end">100</text>
<line x1="415.10" y1="638.20" x2="418.10" y2="638.20" stroke-width="1.1"/>
<text x="411.00" y="640.91" font-size="10.3" text-anchor="end">50</text>
<line x1="415.10" y1="660.50" x2="418.10" y2="660.50" stroke-width="1.1"/>
<text x="411.00" y="663.21" font-size="10.3" text-anchor="end">0</text>
<line x1="418.10" y1="660.50" x2="476.25" y2="660.50" stroke-width="1.3"/>
<rect x="424.25" y="657.50" width="7.25" height="3.00" fill="#fff" stroke-width="1.0"/>
<line x1="427.88" y1="655.00" x2="427.88" y2="657.50" stroke-width="1.0"/>
<line x1="424.90" y1="655.50" x2="430.85" y2="655.50" stroke-width="1.1"/>
<rect x="442.50" y="592.50" width="9.00" height="68.00" fill="#000" stroke="none"/>
<line x1="447.00" y1="585.50" x2="447.00" y2="593.00" stroke-width="1.0"/>
<line x1="443.76" y1="586.00" x2="450.24" y2="586.00" stroke-width="1.1"/>
<rect x="462.50" y="659.30" width="7.50" height="1.20" fill="#000" stroke="none"/>
<polyline points="427.00,651.25 427.00,572.50 448.75,572.50 448.75,581.25" fill="none" stroke-width="1.6"/>
<circle cx="437.00" cy="577.50" r="1.6" fill="#000" stroke="none"/>
<circle cx="437.00" cy="590.50" r="1.6" fill="#000" stroke="none"/>
<circle cx="437.00" cy="603.75" r="1.6" fill="#000" stroke="none"/>
<text x="425.60" y="676.30" font-size="12" text-anchor="middle">1</text>
<text x="445.60" y="676.30" font-size="12" text-anchor="middle">2</text>
<text x="468.00" y="676.30" font-size="12" text-anchor="middle">3</text>
<text x="431.80" y="692.05" font-size="12" text-anchor="end" transform="rotate(-64 431.80 692.05)">0</text>
<text x="451.80" y="687.90" font-size="12" text-anchor="end" transform="rotate(-64 451.80 687.90)">0</text>
<text x="471.10" y="683.00" font-size="12" text-anchor="end" transform="rotate(-64 471.10 683.00)">SU1498</text>
<text x="0.40" y="754.90" font-size="17" font-weight="bold">D</text>
<text x="25.90" y="755.00" font-size="12" textLength="82.80" lengthAdjust="spacingAndGlyphs">Tube Formation</text>
<text x="14.20" y="861.80" font-size="12" text-anchor="middle" font-weight="bold" textLength="60.00" lengthAdjust="spacingAndGlyphs" transform="rotate(-90 14.20 861.80)">Mean total</text>
<text x="27.80" y="860.60" font-size="12" text-anchor="middle" font-weight="bold" textLength="65.00" lengthAdjust="spacingAndGlyphs" transform="rotate(-90 27.80 860.60)">tube length</text>
<text x="23.60" y="780.00" font-size="8.5" font-weight="bold">i</text>
<rect x="40.40" y="784.20" width="10.60" height="8.20" fill="#fff" stroke-width="1"/>
<rect x="39.90" y="798.70" width="11.60" height="9.20" fill="#000" stroke="none"/>
<text x="55.30" y="792.60" font-size="12.7" textLength="34.90" lengthAdjust="spacingAndGlyphs">HBSS</text>
<text x="55.30" y="809.00" font-size="12.7" textLength="50.20" lengthAdjust="spacingAndGlyphs">Histamine</text>
<text x="109.10" y="809.50" font-size="12.7" textLength="44.30" lengthAdjust="spacingAndGlyphs">(10 μM)</text>
<line x1="74.00" y1="838.60" x2="74.00" y2="895.20" stroke-width="1.1"/>
<line x1="71.00" y1="838.60" x2="74.00" y2="838.60" stroke-width="1.1"/>
<text x="66.70" y="841.17" font-size="11.3" text-anchor="end">20000</text>
<line x1="71.00" y1="852.90" x2="74.00" y2="852.90" stroke-width="1.1"/>
<text x="66.70" y="855.47" font-size="11.3" text-anchor="end">15000</text>
<line x1="71.00" y1="867.10" x2="74.00" y2="867.10" stroke-width="1.1"/>
<text x="66.70" y="869.67" font-size="11.3" text-anchor="end">10000</text>
<line x1="71.00" y1="881.30" x2="74.00" y2="881.30" stroke-width="1.1"/>
<text x="66.70" y="883.87" font-size="11.3" text-anchor="end">5000</text>
<line x1="71.00" y1="895.20" x2="74.00" y2="895.20" stroke-width="1.1"/>
<text x="66.70" y="897.77" font-size="11.3" text-anchor="end">0</text>
<line x1="74.00" y1="895.20" x2="170.00" y2="895.20" stroke-width="1.5"/>
<rect x="78.50" y="872.50" width="5.60" height="22.70" fill="#fff" stroke-width="1.0"/>
<line x1="81.30" y1="871.00" x2="81.30" y2="872.50" stroke-width="1.0"/>
<line x1="78.92" y1="871.50" x2="83.68" y2="871.50" stroke-width="1.1"/>
<rect x="94.00" y="849.50" width="7.25" height="45.50" fill="#000" stroke="none"/>
<line x1="97.62" y1="846.25" x2="97.62" y2="850.00" stroke-width="1.0"/>
<line x1="95.02" y1="846.75" x2="100.23" y2="846.75" stroke-width="1.1"/>
<rect x="110.00" y="875.00" width="7.00" height="20.00" fill="#000" stroke="none"/>
<rect x="125.50" y="867.50" width="7.00" height="27.50" fill="#000" stroke="none"/>
<line x1="129.00" y1="866.25" x2="129.00" y2="868.00" stroke-width="1.0"/>
<line x1="126.48" y1="866.75" x2="131.52" y2="866.75" stroke-width="1.1"/>
<rect x="142.00" y="879.50" width="6.75" height="15.50" fill="#000" stroke="none"/>
<line x1="145.38" y1="877.50" x2="145.38" y2="880.00" stroke-width="1.0"/>
<line x1="142.94" y1="878.00" x2="147.81" y2="878.00" stroke-width="1.1"/>
<rect x="158.00" y="855.50" width="7.00" height="39.50" fill="#000" stroke="none"/>
<line x1="161.50" y1="852.00" x2="161.50" y2="856.00" stroke-width="1.0"/>
<line x1="158.98" y1="852.50" x2="164.02" y2="852.50" stroke-width="1.1"/>
<line x1="80.80" y1="824.40" x2="80.80" y2="867.70" stroke-width="1.6"/>
<polyline points="80.80,825.00 161.25,825.00 161.25,843.75" fill="none" stroke-width="1.6"/>
<polyline points="80.80,833.75 96.25,833.75 96.25,840.00" fill="none" stroke-width="1.6"/>
<circle cx="88.00" cy="839.50" r="1.6" fill="#000" stroke="none"/>
<circle cx="88.00" cy="852.50" r="1.6" fill="#000" stroke="none"/>
<circle cx="88.00" cy="866.25" r="1.6" fill="#000" stroke="none"/>
<circle cx="150.00" cy="832.00" r="1.6" fill="#000" stroke="none"/>
<circle cx="150.00" cy="845.00" r="1.6" fill="#000" stroke="none"/>
<circle cx="150.00" cy="858.75" r="1.6" fill="#000" stroke="none"/>
<text x="82.20" y="910.70" font-size="11" text-anchor="middle">1</text>
<text x="98.20" y="910.70" font-size="11" text-anchor="middle">2</text>
<text x="112.30" y="910.70" font-size="11" text-anchor="middle">3</text>
<text x="128.75" y="910.70" font-size="11" text-anchor="middle">4</text>
<text x="144.60" y="910.70" font-size="11" text-anchor="middle">5</text>
<text x="163.40" y="910.70" font-size="11" text-anchor="middle">6</text>
<text x="90.05" y="923.10" font-size="12" text-anchor="end" transform="rotate(-64 90.05 923.10)">0</text>
<text x="101.00" y="925.35" font-size="12" text-anchor="end" transform="rotate(-64 101.00 925.35)">0</text>
<text x="113.60" y="922.80" font-size="12" text-anchor="end" transform="rotate(-64 113.60 922.80)">H1</text>
<text x="128.30" y="924.80" font-size="12" text-anchor="end" transform="rotate(-64 128.30 924.80)">H2</text>
<text x="143.70" y="924.60" font-size="12" text-anchor="end" transform="rotate(-64 143.70 924.60)">H4</text>
<text x="166.15" y="917.95" font-size="12" text-anchor="end" transform="rotate(-64 166.15 917.95)">SU1498</text>
<text x="1.80" y="932.00" font-size="12" textLength="49.00" lengthAdjust="spacingAndGlyphs">Receptor</text>
<text x="1.80" y="946.30" font-size="12" textLength="46.00" lengthAdjust="spacingAndGlyphs">Inhibitors</text>
<text x="204.50" y="780.00" font-size="8.5" font-weight="bold">ii</text>
<rect x="209.20" y="791.20" width="10.60" height="7.40" fill="#fff" stroke-width="1"/>
<rect x="208.70" y="807.40" width="11.60" height="8.40" fill="#000" stroke="none"/>
<text x="222.00" y="800.00" font-size="12.7" textLength="35.00" lengthAdjust="spacingAndGlyphs">HBSS</text>
<text x="222.00" y="817.30" font-size="12.7" textLength="89.00" lengthAdjust="spacingAndGlyphs">Serotonin (1 μM)</text>
<line x1="219.00" y1="838.30" x2="219.00" y2="904.70" stroke-width="1.1"/>
<line x1="216.20" y1="838.30" x2="219.00" y2="838.30" stroke-width="1.1"/>
<text x="211.60" y="840.57" font-size="11.3" text-anchor="end">20000</text>
<line x1="216.20" y1="854.90" x2="219.00" y2="854.90" stroke-width="1.1"/>
<text x="211.60" y="857.17" font-size="11.3" text-anchor="end">15000</text>
<line x1="216.20" y1="871.50" x2="219.00" y2="871.50" stroke-width="1.1"/>
<text x="211.60" y="873.77" font-size="11.3" text-anchor="end">10000</text>
<line x1="216.20" y1="888.10" x2="219.00" y2="888.10" stroke-width="1.1"/>
<text x="211.60" y="890.37" font-size="11.3" text-anchor="end">5000</text>
<line x1="216.20" y1="904.70" x2="219.00" y2="904.70" stroke-width="1.1"/>
<text x="211.60" y="906.97" font-size="11.3" text-anchor="end">0</text>
<line x1="219.00" y1="904.70" x2="335.00" y2="904.70" stroke-width="1.5"/>
<rect x="224.80" y="878.80" width="7.50" height="25.90" fill="#fff" stroke-width="1.0"/>
<line x1="228.55" y1="876.50" x2="228.55" y2="878.80" stroke-width="1.0"/>
<line x1="225.49" y1="877.00" x2="231.61" y2="877.00" stroke-width="1.1"/>
<rect x="244.20" y="854.60" width="9.00" height="50.10" fill="#000" stroke="none"/>
<line x1="248.70" y1="852.20" x2="248.70" y2="855.10" stroke-width="1.0"/>
<line x1="245.46" y1="852.70" x2="251.94" y2="852.70" stroke-width="1.1"/>
<rect x="264.00" y="861.20" width="8.80" height="43.50" fill="#000" stroke="none"/>
<line x1="268.40" y1="859.00" x2="268.40" y2="861.70" stroke-width="1.0"/>
<line x1="265.23" y1="859.50" x2="271.57" y2="859.50" stroke-width="1.1"/>
<rect x="283.80" y="873.50" width="8.80" height="31.20" fill="#000" stroke="none"/>
<line x1="288.20" y1="871.00" x2="288.20" y2="874.00" stroke-width="1.0"/>
<line x1="285.03" y1="871.50" x2="291.37" y2="871.50" stroke-width="1.1"/>
<rect x="303.20" y="879.00" width="9.00" height="25.70" fill="#000" stroke="none"/>
<line x1="307.70" y1="877.60" x2="307.70" y2="879.50" stroke-width="1.0"/>
<line x1="304.46" y1="878.10" x2="310.94" y2="878.10" stroke-width="1.1"/>
<rect x="323.00" y="855.60" width="9.00" height="49.10" fill="#000" stroke="none"/>
<line x1="327.50" y1="853.00" x2="327.50" y2="856.10" stroke-width="1.0"/>
<line x1="324.26" y1="853.50" x2="330.74" y2="853.50" stroke-width="1.1"/>
<line x1="228.40" y1="833.30" x2="228.40" y2="872.00" stroke-width="1.6"/>
<polyline points="228.40,833.80 326.25,833.80 326.25,850.00" fill="none" stroke-width="1.6"/>
<polyline points="228.40,837.80 268.75,837.80 268.75,856.25" fill="none" stroke-width="1.6"/>
<polyline points="228.40,841.60 249.50,841.60 249.50,846.00" fill="none" stroke-width="1.6"/>
<circle cx="238.75" cy="846.25" r="1.6" fill="#000" stroke="none"/>
<circle cx="238.75" cy="859.50" r="1.6" fill="#000" stroke="none"/>
<circle cx="238.75" cy="872.50" r="1.6" fill="#000" stroke="none"/>
<circle cx="260.00" cy="842.00" r="1.6" fill="#000" stroke="none"/>
<circle cx="260.00" cy="855.00" r="1.6" fill="#000" stroke="none"/>
<circle cx="260.00" cy="868.75" r="1.6" fill="#000" stroke="none"/>
<circle cx="317.00" cy="840.00" r="1.6" fill="#000" stroke="none"/>
<circle cx="317.00" cy="853.00" r="1.6" fill="#000" stroke="none"/>
<circle cx="317.00" cy="866.25" r="1.6" fill="#000" stroke="none"/>
<text x="229.00" y="919.10" font-size="11" text-anchor="middle">1</text>
<text x="248.20" y="919.10" font-size="11" text-anchor="middle">2</text>
<text x="267.80" y="919.10" font-size="11" text-anchor="middle">3</text>
<text x="287.00" y="919.10" font-size="11" text-anchor="middle">4</text>
<text x="309.30" y="919.10" font-size="11" text-anchor="middle">5</text>
<text x="328.00" y="919.10" font-size="11" text-anchor="middle">6</text>
<text x="232.40" y="934.80" font-size="12" text-anchor="end" transform="rotate(-64 232.40 934.80)">0</text>
<text x="253.70" y="934.80" font-size="12" text-anchor="end" transform="rotate(-64 253.70 934.80)">0</text>
<text x="272.10" y="922.30" font-size="12" text-anchor="end" transform="rotate(-64 272.10 922.30)">5-HT 1,6,7</text>
<text x="289.90" y="925.00" font-size="12" text-anchor="end" transform="rotate(-64 289.90 925.00)">5-HT2</text>
<text x="310.40" y="928.60" font-size="12" text-anchor="end" transform="rotate(-64 310.40 928.60)">5-HT3</text>
<text x="334.10" y="930.00" font-size="12" text-anchor="end" transform="rotate(-64 334.10 930.00)">SU1498</text>
<text x="373.00" y="780.00" font-size="8.5" font-weight="bold">iii</text>
<rect x="358.90" y="791.30" width="8.60" height="7.00" fill="#fff" stroke-width="1"/>
<rect x="358.40" y="807.00" width="9.60" height="8.00" fill="#000" stroke="none"/>
<text x="375.30" y="798.80" font-size="11.5" textLength="34.90" lengthAdjust="spacingAndGlyphs">HBSS</text>
<text x="375.30" y="815.90" font-size="11.5" textLength="45.80" lengthAdjust="spacingAndGlyphs">VEGF-A</text>
<text x="421.90" y="810.60" font-size="7.5" textLength="9.80" lengthAdjust="spacingAndGlyphs">165</text>
<text x="435.30" y="816.40" font-size="11.5" textLength="52.20" lengthAdjust="spacingAndGlyphs">(10 ng/ml)</text>
<line x1="383.70" y1="837.80" x2="383.70" y2="905.00" stroke-width="1.1"/>
<line x1="380.70" y1="837.80" x2="383.70" y2="837.80" stroke-width="1.1"/>
<text x="375.30" y="841.19" font-size="10.8" text-anchor="end">30000</text>
<line x1="380.70" y1="860.20" x2="383.70" y2="860.20" stroke-width="1.1"/>
<text x="375.30" y="863.59" font-size="10.8" text-anchor="end">20000</text>
<line x1="380.70" y1="882.60" x2="383.70" y2="882.60" stroke-width="1.1"/>
<text x="375.30" y="885.99" font-size="10.8" text-anchor="end">10000</text>
<line x1="380.70" y1="905.00" x2="383.70" y2="905.00" stroke-width="1.1"/>
<text x="375.30" y="908.39" font-size="10.8" text-anchor="end">0</text>
<line x1="383.70" y1="905.00" x2="502.50" y2="905.00" stroke-width="1.5"/>
<rect x="395.90" y="887.80" width="15.60" height="17.20" fill="#fff" stroke-width="1.0"/>
<line x1="403.70" y1="886.00" x2="403.70" y2="887.80" stroke-width="1.0"/>
<line x1="397.72" y1="886.50" x2="409.68" y2="886.50" stroke-width="1.1"/>
<rect x="436.00" y="862.70" width="15.30" height="42.30" fill="#000" stroke="none"/>
<line x1="443.65" y1="861.20" x2="443.65" y2="863.20" stroke-width="1.0"/>
<line x1="438.14" y1="861.70" x2="449.16" y2="861.70" stroke-width="1.1"/>
<rect x="475.40" y="886.80" width="16.10" height="18.20" fill="#000" stroke="none"/>
<line x1="483.45" y1="885.00" x2="483.45" y2="887.30" stroke-width="1.0"/>
<line x1="477.65" y1="885.50" x2="489.25" y2="885.50" stroke-width="1.1"/>
<polyline points="403.30,879.50 403.30,845.60 445.00,845.60 445.00,853.20" fill="none" stroke-width="1.6"/>
<circle cx="428.30" cy="854.50" r="1.6" fill="#000" stroke="none"/>
<circle cx="428.30" cy="867.20" r="1.6" fill="#000" stroke="none"/>
<circle cx="428.30" cy="880.20" r="1.6" fill="#000" stroke="none"/>
<text x="403.30" y="920.40" font-size="11" text-anchor="middle">1</text>
<text x="440.60" y="920.40" font-size="11" text-anchor="middle">2</text>
<text x="481.00" y="920.40" font-size="11" text-anchor="middle">3</text>
<text x="409.70" y="935.10" font-size="12" text-anchor="end" transform="rotate(-64 409.70 935.10)">0</text>
<text x="444.80" y="935.70" font-size="12" text-anchor="end" transform="rotate(-64 444.80 935.70)">0</text>
<text x="483.10" y="925.30" font-size="12" text-anchor="end" transform="rotate(-64 483.10 925.30)">SU1498</text>
</g>
</svg>
</body></html>
